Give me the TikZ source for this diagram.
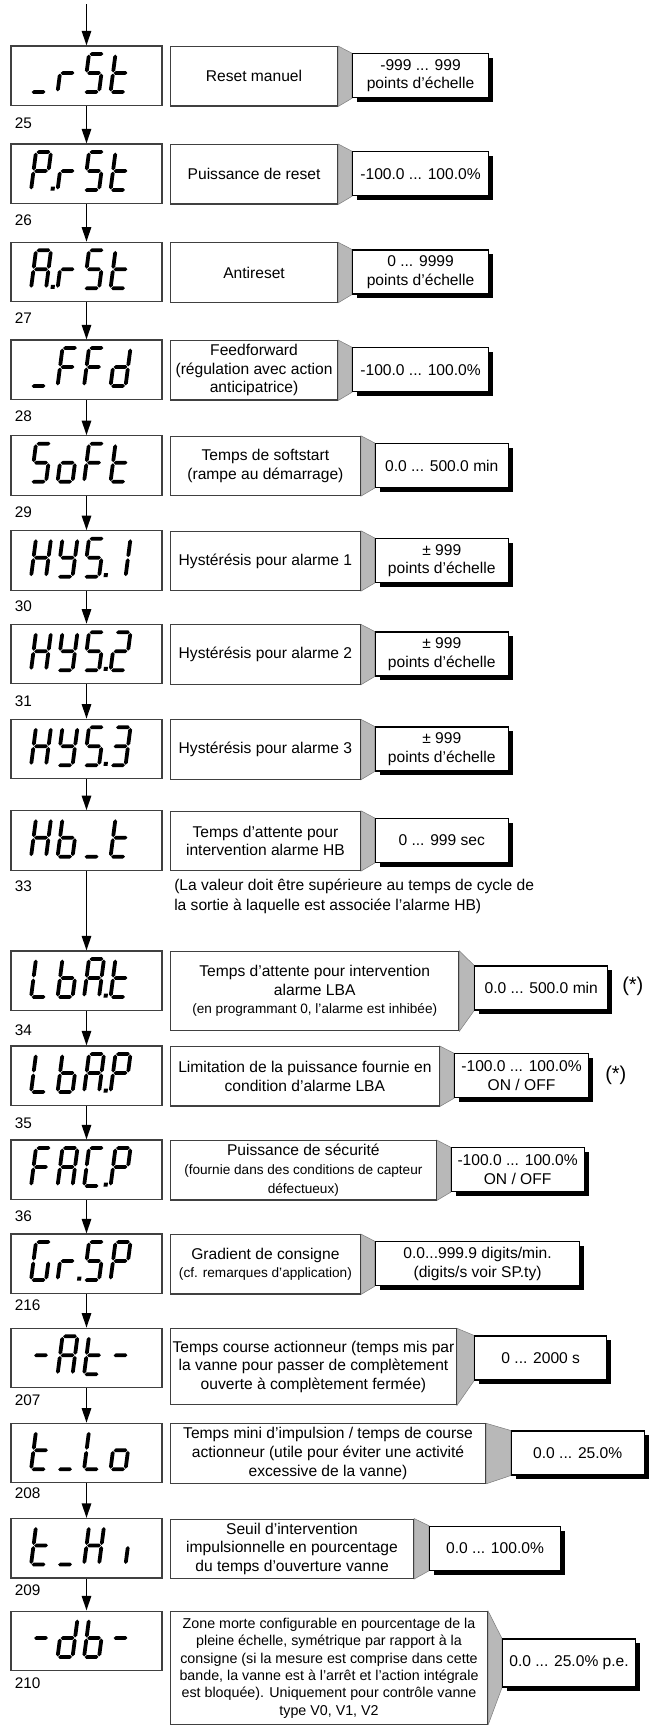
\documentclass[tikz,border=0pt]{standalone}
\usepackage{fontspec}
\setmainfont{Liberation Sans}
\usetikzlibrary{arrows.meta}
\usetikzlibrary{shadows}
\pgfdeclarelayer{background}
\pgfsetlayers{background,main}

\newcommand{\smallfont}{\fontsize{10.2}{12}\selectfont}
% LCD segments, local cell with y downwards
\newcommand{\hseg}[3]{\fill (#1,#3) -- (#1+1.9,#3-1.9) -- (#2-1.9,#3-1.9) -- (#2,#3) -- (#2-1.9,#3+1.9) -- (#1+1.9,#3+1.9) -- cycle;}
\newcommand{\vseg}[3]{\fill (#1,#2) -- (#1+1.9,#2+1.9) -- (#1+1.9,#3-1.9) -- (#1,#3) -- (#1-1.9,#3-1.9) -- (#1-1.9,#2+1.9) -- cycle;}
\newcommand{\sega}{\hseg{0.6}{14.4}{0}}
\newcommand{\segb}{\vseg{15}{0.6}{18.4}}
\newcommand{\segc}{\vseg{15}{19.6}{37.4}}
\newcommand{\segd}{\hseg{0.6}{14.4}{38}}
\newcommand{\sege}{\vseg{0}{19.6}{37.4}}
\newcommand{\segf}{\vseg{0}{0.6}{18.4}}
\newcommand{\segg}{\hseg{0.6}{14.4}{19}}
\newcommand{\segp}{\fill (19.5,34.5) rectangle (23.5,38.5);}
\newcommand{\lcdchar}[3]{\begin{scope}[shift={(#1,#2)},xslant=-0.13]\foreach \s in {#3}{\csname seg\s\endcsname}\end{scope}}
\newcommand{\lcdword}[5]{\lcdchar{36}{#1+8}{#2}\lcdchar{62.5}{#1+8}{#3}\lcdchar{89}{#1+8}{#4}\lcdchar{115.5}{#1+8}{#5}}

\begin{document}
\begin{tikzpicture}[x=0.75pt,y=0.75pt,yscale=-1,xscale=1,
  lcdbox/.style={draw=black!75,line width=0.8pt,minimum width=113.25pt,minimum height=44.6pt,inner sep=0pt},
  descbox/.style={draw=black!75,line width=0.8pt,anchor=north west,align=center,inner sep=0pt,minimum height=44.6pt,font=\fontsize{11.7}{14}\selectfont},
  valbox/.style={draw=black,line width=0.8pt,fill=white,anchor=west,align=center,inner sep=0pt,minimum width=99.75pt,minimum height=33pt,font=\fontsize{11.7}{14}\selectfont,drop shadow={shadow xshift=3.3pt,shadow yshift=-3.3pt,fill=black,opacity=1}},
  linkfill/.style={fill=black!28,draw=black!50,line width=0.4pt},
  flow/.style={line width=1.4pt,-{Triangle[length=11pt,width=7pt]}},
  idx/.style={anchor=west,inner sep=0pt,font=\fontsize{11.5}{13}\selectfont}
]
\useasboundingbox (0,0) rectangle (670,1725);

% Entry
\coordinate (entry) at (86.5,4);

% Display _rSt
\draw (86.5,75.75) node [lcdbox] (lcdrst) {};
\lcdword{46}{d}{e,g}{a,f,g,c,d}{f,e,g,d}
% Text Node
\draw (170,46) node [descbox,minimum width=125.25pt] (txtrst) {Reset manuel};
\draw (352,75.75) node [valbox,minimum width=102pt] (valrst) {-999 ... 999\\points d’échelle};
\draw (14.5,123.3) node [idx] (idx25) {25};

% Display P.rSt
\draw (86.5,173.75) node [lcdbox] (lcdprst) {};
\lcdword{144}{a,b,f,g,e,p}{e,g}{a,f,g,c,d}{f,e,g,d}
% Text Node
\draw (170,144) node [descbox,minimum width=125.25pt] (txtprst) {Puissance de reset};
\draw (352,173.75) node [valbox,minimum width=102pt] (valprst) {-100.0 ... 100.0\%};
\draw (14.5,220) node [idx] (idx26) {26};

% Display A.rSt
\draw (86.5,272) node [lcdbox] (lcdarst) {};
\lcdword{242.3}{a,b,c,e,f,g,p}{e,g}{a,f,g,c,d}{f,e,g,d}
% Text Node
\draw (170,242.3) node [descbox,minimum width=125.25pt] (txtarst) {Antireset};
\draw (352,272) node [valbox,minimum width=102pt] (valarst) {0 ... 9999\\points d’échelle};
\draw (14.5,318.3) node [idx] (idx27) {27};

% Display _FFd
\draw (86.5,369.75) node [lcdbox] (lcdffd) {};
\lcdword{340}{d}{a,f,g,e}{a,f,g,e}{b,c,d,e,g}
% Text Node
\draw (170,340) node [descbox,minimum width=125.25pt] (txtffd) {Feedforward\\(régulation avec action\\anticipatrice)};
\draw (352,369.75) node [valbox,minimum width=102pt] (valffd) {-100.0 ... 100.0\%};
\draw (14.5,416.7) node [idx] (idx28) {28};

% Display SoFt
\draw (86.5,465.5) node [lcdbox] (lcdsoft) {};
\lcdword{435.7}{a,f,g,c,d}{c,d,e,g}{a,f,g,e}{f,e,g,d}
% Text Node
\draw (170,435.7) node [descbox,minimum width=142.3pt] (txtsoft) {Temps de softstart\\(rampe au démarrage)};
\draw (374.7,465.5) node [valbox] (valsoft) {0.0 ... 500.0 min};
\draw (14.5,512.7) node [idx] (idx29) {29};

% Display HYS.1
\draw (86.5,560.5) node [lcdbox] (lcdhysa) {};
\lcdword{530.7}{b,c,e,f,g}{b,c,d,f,g}{a,f,g,c,d,p}{b,c}
% Text Node
\draw (170,530.7) node [descbox,minimum width=142.3pt] (txthysa) {Hystérésis pour alarme 1};
\draw (374.7,560.5) node [valbox] (valhysa) {± 999\\points d’échelle};
\draw (14.5,606.7) node [idx] (idx30) {30};

% Display HYS.2
\draw (86.5,654) node [lcdbox] (lcdhysb) {};
\lcdword{624.3}{b,c,e,f,g}{b,c,d,f,g}{a,f,g,c,d,p}{a,b,g,e,d}
% Text Node
\draw (170,624.3) node [descbox,minimum width=142.3pt] (txthysb) {Hystérésis pour alarme 2};
\draw (374.7,654) node [valbox] (valhysb) {± 999\\points d’échelle};
\draw (14.5,701.7) node [idx] (idx31) {31};

% Display HYS.3
\draw (86.5,749) node [lcdbox] (lcdhysc) {};
\lcdword{719.3}{b,c,e,f,g}{b,c,d,f,g}{a,f,g,c,d,p}{a,b,g,c,d}
% Text Node
\draw (170,719.3) node [descbox,minimum width=142.3pt] (txthysc) {Hystérésis pour alarme 3};
\draw (374.7,749) node [valbox] (valhysc) {± 999\\points d’échelle};

% Display Hb_t
\draw (86.5,840.5) node [lcdbox] (lcdhbt) {};
\lcdword{810.7}{b,c,e,f,g}{f,e,g,c,d}{d}{f,e,g,d}
% Text Node
\draw (170,810.7) node [descbox,minimum width=142.3pt] (txthbt) {Temps d’attente pour\\intervention alarme HB};
\draw (374.7,840.5) node [valbox] (valhbt) {0 ... 999 sec};
\draw (14.5,886.7) node [idx] (idx33) {33};
\draw (174,896.7) node [anchor=west,align=left,inner sep=0pt,font=\fontsize{11.7}{15}\selectfont] (notehbt) {(La valeur doit être supérieure au temps de cycle de\\la sortie à laquelle est associée l’alarme HB)};

% Display LbA.t
\draw (86.5,980.75) node [lcdbox] (lcdlbat) {};
\lcdword{951}{f,e,d}{f,e,g,c,d}{a,b,c,e,f,g,p}{f,e,g,d}
% Text Node
\draw (170,951) node [descbox,minimum width=216.3pt,minimum height=59.25pt] (txtlbat) {Temps d’attente pour intervention\\alarme LBA\\\smallfont (en programmant 0, l’alarme est inhibée)};
\draw (474.2,988) node [valbox] (vallbat) {0.0 ... 500.0 min};
\draw (622,986.7) node [anchor=west,inner sep=0pt,font=\fontsize{15}{18}\selectfont] (starlbat) {(*)};
\draw (14.5,1030) node [idx] (idx34) {34};

% Display LbA.P
\draw (86.5,1075.75) node [lcdbox] (lcdlbap) {};
\lcdword{1046}{f,e,d}{f,e,g,c,d}{a,b,c,e,f,g,p}{a,b,f,g,e}
% Text Node
\draw (170,1046) node [descbox,minimum width=201.5pt] (txtlbap) {Limitation de la puissance fournie en\\condition d’alarme LBA};
\draw (454,1075.75) node [valbox,minimum width=100.5pt] (vallbap) {-100.0 ... 100.0\%\\ON / OFF};
\draw (605,1075) node [anchor=west,inner sep=0pt,font=\fontsize{15}{18}\selectfont] (starlbap) {(*)};
\draw (14.5,1123.3) node [idx] (idx35) {35};

% Display FAC.P
\draw (86.5,1169.75) node [lcdbox] (lcdfacp) {};
\lcdword{1140}{a,f,g,e}{a,b,c,e,f,g}{a,f,e,d,p}{a,b,f,g,e}
% Text Node
\draw (170,1140) node [descbox,minimum width=199.2pt] (txtfacp) {Puissance de sécurité\\\smallfont (fournie dans des conditions de capteur\\\smallfont défectueux)};
\draw (450.6,1169.75) node [valbox] (valfacp) {-100.0 ... 100.0\%\\ON / OFF};
\draw (14.5,1216.7) node [idx] (idx36) {36};

% Display Gr.SP
\draw (86.5,1263.75) node [lcdbox] (lcdgrsp) {};
\lcdword{1234}{a,f,e,d,c}{e,g,p}{a,f,g,c,d}{a,b,f,g,e}
% Text Node
\draw (170,1234) node [descbox,minimum width=142.3pt] (txtgrsp) {Gradient de consigne\\\smallfont (cf. remarques d’application)};
\draw (374.7,1263.75) node [valbox,minimum width=153.5pt] (valgrsp) {0.0...999.9 digits/min.\\(digits/s voir SP.ty)};
\draw (14.5,1305) node [idx] (idx216) {216};

% Display -At-
\draw (86.5,1358) node [lcdbox] (lcdat) {};
\lcdword{1328.3}{g}{a,b,c,e,f,g}{f,e,g,d}{g}
% Text Node
\draw (170,1328.3) node [descbox,minimum width=214.4pt,minimum height=57pt] (txtat) {Temps course actionneur (temps mis par\\la vanne pour passer de complètement\\ouverte à complètement fermée)};
\draw (474.2,1358) node [valbox,minimum width=99pt] (valat) {0 ... 2000 s};
\draw (14.5,1400) node [idx] (idx207) {207};

% Display t_Lo
\draw (86.5,1453) node [lcdbox] (lcdtlo) {};
\lcdword{1423.3}{f,e,g,d}{d}{f,e,d}{c,d,e,g}
% Text Node
\draw (170,1423.3) node [descbox,minimum width=236.25pt] (txttlo) {Temps mini d’impulsion / temps de course\\actionneur (utile pour éviter une activité\\excessive de la vanne)};
\draw (510.7,1453) node [valbox] (valtlo) {0.0 ... 25.0\%};
\draw (14.5,1493.3) node [idx] (idx208) {208};

% Display t_Hi
\draw (86.5,1548.25) node [lcdbox] (lcdthi) {};
\lcdword{1518.5}{f,e,g,d}{d}{b,c,e,f,g}{c}
% Text Node
\draw (170,1518.5) node [descbox,minimum width=182.25pt] (txtthi) {Seuil d’intervention\\impulsionnelle en pourcentage\\du temps d’ouverture vanne};
\draw (429,1548.25) node [valbox,minimum width=98.25pt] (valthi) {0.0 ... 100.0\%};
\draw (14.5,1590) node [idx] (idx209) {209};

% Display -db-
\draw (86.5,1640.75) node [lcdbox] (lcddb) {};
\lcdword{1611}{g}{b,c,d,e,g}{f,e,g,c,d}{g}
% Text Node
\draw (170,1611) node [descbox,minimum width=237.75pt,minimum height=84.75pt,font=\fontsize{10.7}{13}\selectfont] (txtdb) {Zone morte configurable en pourcentage de la\\pleine échelle, symétrique par rapport à la\\consigne (si la mesure est comprise dans cette\\bande, la vanne est à l’arrêt et l’action intégrale\\est bloquée). Uniquement pour contrôle vanne\\type V0, V1, V2};
\draw (502,1663) node [valbox,minimum height=36pt] (valdb) {0.0 ... 25.0\% p.e.};
\draw (14.5,1683) node [idx] (idx210) {210};

% Connection
\begin{pgfonlayer}{background}
\filldraw [linkfill] (txtrst.north east) -- (valrst.north west) -- (valrst.south west) -- (txtrst.south east) -- cycle;
\filldraw [linkfill] (txtprst.north east) -- (valprst.north west) -- (valprst.south west) -- (txtprst.south east) -- cycle;
\filldraw [linkfill] (txtarst.north east) -- (valarst.north west) -- (valarst.south west) -- (txtarst.south east) -- cycle;
\filldraw [linkfill] (txtffd.north east) -- (valffd.north west) -- (valffd.south west) -- (txtffd.south east) -- cycle;
\filldraw [linkfill] (txtsoft.north east) -- (valsoft.north west) -- (valsoft.south west) -- (txtsoft.south east) -- cycle;
\filldraw [linkfill] (txthysa.north east) -- (valhysa.north west) -- (valhysa.south west) -- (txthysa.south east) -- cycle;
\filldraw [linkfill] (txthysb.north east) -- (valhysb.north west) -- (valhysb.south west) -- (txthysb.south east) -- cycle;
\filldraw [linkfill] (txthysc.north east) -- (valhysc.north west) -- (valhysc.south west) -- (txthysc.south east) -- cycle;
\filldraw [linkfill] (txthbt.north east) -- (valhbt.north west) -- (valhbt.south west) -- (txthbt.south east) -- cycle;
\filldraw [linkfill] (txtlbat.north east) -- (vallbat.north west) -- (vallbat.south west) -- (txtlbat.south east) -- cycle;
\filldraw [linkfill] (txtlbap.north east) -- (vallbap.north west) -- (vallbap.south west) -- (txtlbap.south east) -- cycle;
\filldraw [linkfill] (txtfacp.north east) -- (valfacp.north west) -- (valfacp.south west) -- (txtfacp.south east) -- cycle;
\filldraw [linkfill] (txtgrsp.north east) -- (valgrsp.north west) -- (valgrsp.south west) -- (txtgrsp.south east) -- cycle;
\filldraw [linkfill] (txtat.north east) -- (valat.north west) -- (valat.south west) -- (txtat.south east) -- cycle;
\filldraw [linkfill] (txttlo.north east) -- (valtlo.north west) -- (valtlo.south west) -- (txttlo.south east) -- cycle;
\filldraw [linkfill] (txtthi.north east) -- (valthi.north west) -- (valthi.south west) -- (txtthi.south east) -- cycle;
\filldraw [linkfill] (txtdb.north east) -- (valdb.north west) -- (valdb.south west) -- (txtdb.south east) -- cycle;
\end{pgfonlayer}

% Connection
\draw [flow] (entry) -- (lcdrst);
\draw [flow] (lcdrst) -- (lcdprst);
\draw [flow] (lcdprst) -- (lcdarst);
\draw [flow] (lcdarst) -- (lcdffd);
\draw [flow] (lcdffd) -- (lcdsoft);
\draw [flow] (lcdsoft) -- (lcdhysa);
\draw [flow] (lcdhysa) -- (lcdhysb);
\draw [flow] (lcdhysb) -- (lcdhysc);
\draw [flow] (lcdhysc) -- (lcdhbt);
\draw [flow] (lcdhbt) -- (lcdlbat);
\draw [flow] (lcdlbat) -- (lcdlbap);
\draw [flow] (lcdlbap) -- (lcdfacp);
\draw [flow] (lcdfacp) -- (lcdgrsp);
\draw [flow] (lcdgrsp) -- (lcdat);
\draw [flow] (lcdat) -- (lcdtlo);
\draw [flow] (lcdtlo) -- (lcdthi);
\draw [flow] (lcdthi) -- (lcddb);

\end{tikzpicture}
\end{document}
